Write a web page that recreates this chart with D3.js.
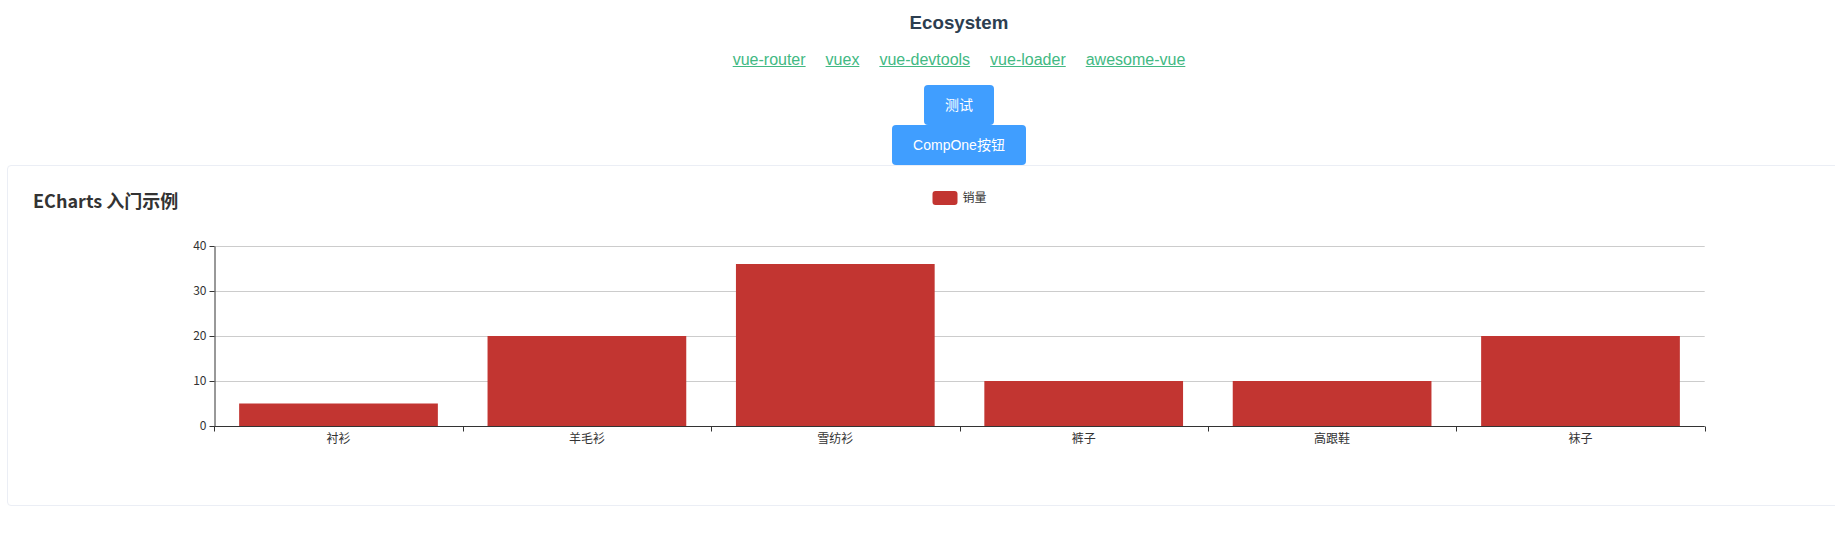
<!DOCTYPE html>
<html>
<head>
<meta charset="utf-8">
<script src="https://cdn.jsdelivr.net/npm/d3@7/dist/d3.min.js"></script>
<style>
  html, body { margin: 0; padding: 0; background: #fff; overflow: hidden; }
  #page { position: relative; width: 1919px; height: 554px; }
  #eco { position: absolute; left: 0; width: 1918px; top: 12px; margin: 0; text-align: center;
         font: bold 18.72px "Liberation Sans", Arial, sans-serif; color: #2c3e50; line-height: 22px; }
  #links { position: absolute; left: 0; width: 1918px; top: 51px; margin: 0; padding: 0; text-align: center;
           list-style: none; font: 16px "Liberation Sans", Arial, sans-serif; line-height: 18px; }
  #links li { display: inline-block; margin: 0 10px; }
  #links a { color: #42b983; text-decoration: underline; }
  .btn { position: absolute; height: 40px; background: #409eff; color: #fff; border-radius: 4px;
         font: 14px "Liberation Sans", "Noto Sans CJK SC", sans-serif; line-height: 40px; text-align: center; }
  #card { position: absolute; left: 7px; top: 165px; width: 1903px; height: 339px;
          border: 1px solid #ebeef5; border-radius: 4px; background: #fff; }
  #chart { position: absolute; left: 28px; top: 186px; }
</style>
</head>
<body>
<div id="page">
  <h3 id="eco">Ecosystem</h3>
  <ul id="links"></ul>
  <div class="btn" style="left:924px; top:85px; width:70px;">测试</div>
  <div class="btn" style="left:892px; top:125px; width:134px;">CompOne按钮</div>
  <div id="card"></div>
  <svg id="chart" width="1863" height="300"></svg>
</div>
<script>
const linkNames = ["vue-router", "vuex", "vue-devtools", "vue-loader", "awesome-vue"];
const chartTitle = "ECharts 入门示例";
const seriesName = "销量";
const categories = ["衬衫", "羊毛衫", "雪纺衫", "裤子", "高跟鞋", "袜子"];
const values = [5, 20, 36, 10, 10, 20];
const yTicks = [0, 10, 20, 30, 40];

d3.select("#links").selectAll("li").data(linkNames).join("li")
  .append("a").attr("href", "#").text(d => d);

const W = 1863, H = 300;
const svg = d3.select("#chart");
const gl = W * 0.1, gr = W * 0.9, gt = 60, gb = H - 60;
const font = "'Noto Sans CJK SC', 'Microsoft YaHei', sans-serif";

// title
svg.append("text").attr("x", 5).attr("y", 5).attr("dy", "0.95em")
  .attr("font-family", font).attr("font-size", 18).attr("font-weight", "bold")
  .attr("fill", "#333").text(chartTitle);

// legend
const legendX = W / 2 - (25 + 5 + 24) / 2;
const lg = svg.append("g").attr("transform", `translate(${legendX},5)`);
lg.append("rect").attr("width", 25).attr("height", 14).attr("rx", 3).attr("fill", "#c23531");
lg.append("text").attr("x", 30).attr("y", 7).attr("dy", "0.35em")
  .attr("font-family", font).attr("font-size", 12).attr("fill", "#333").text(seriesName);

const y = d3.scaleLinear().domain([0, 40]).range([gb, gt]);
const x = d3.scaleBand().domain(categories).range([gl, gr]).paddingInner(0.2).paddingOuter(0.1);
const xc = d3.scaleBand().domain(categories).range([gl, gr]).padding(0);
const crisp = v => Math.round(v) + 0.5;

// grid lines
svg.append("g").selectAll("line").data(yTicks).join("line")
  .attr("x1", gl).attr("x2", gr)
  .attr("y1", d => crisp(y(d))).attr("y2", d => crisp(y(d)))
  .attr("stroke", "#ccc").attr("stroke-width", 1);

// bars
svg.append("g").selectAll("rect").data(values).join("rect")
  .attr("x", (d, i) => x(categories[i])).attr("width", x.bandwidth())
  .attr("y", d => y(d)).attr("height", d => y(0) - y(d))
  .attr("fill", "#c23531");

// y axis
const yAxis = svg.append("g").attr("transform", `translate(${crisp(gl)},0)`)
  .call(d3.axisLeft(y).tickValues(yTicks).tickSize(5).tickPadding(3).tickSizeOuter(0));
yAxis.selectAll("path,line").attr("stroke", "#333");
yAxis.selectAll(".tick").attr("transform", d => `translate(0,${crisp(y(d))})`);
yAxis.selectAll("text").attr("font-family", font).attr("font-size", 12).attr("fill", "#333");

// x axis
const xAxis = svg.append("g").attr("transform", `translate(0,${crisp(gb)})`)
  .call(d3.axisBottom(xc).tickSize(0).tickPadding(8).tickSizeOuter(0));
xAxis.select(".domain").remove();
xAxis.selectAll("text").attr("font-family", font).attr("font-size", 12).attr("fill", "#333");
xAxis.append("line").attr("x1", gl).attr("x2", gr).attr("stroke", "#333");
const bounds = categories.map(c => xc(c)).concat([gr]);
xAxis.append("g").selectAll("line").data(bounds).join("line")
  .attr("x1", d => crisp(d)).attr("x2", d => crisp(d)).attr("y1", 0).attr("y2", 5)
  .attr("stroke", "#333");
</script>
</body>
</html>
